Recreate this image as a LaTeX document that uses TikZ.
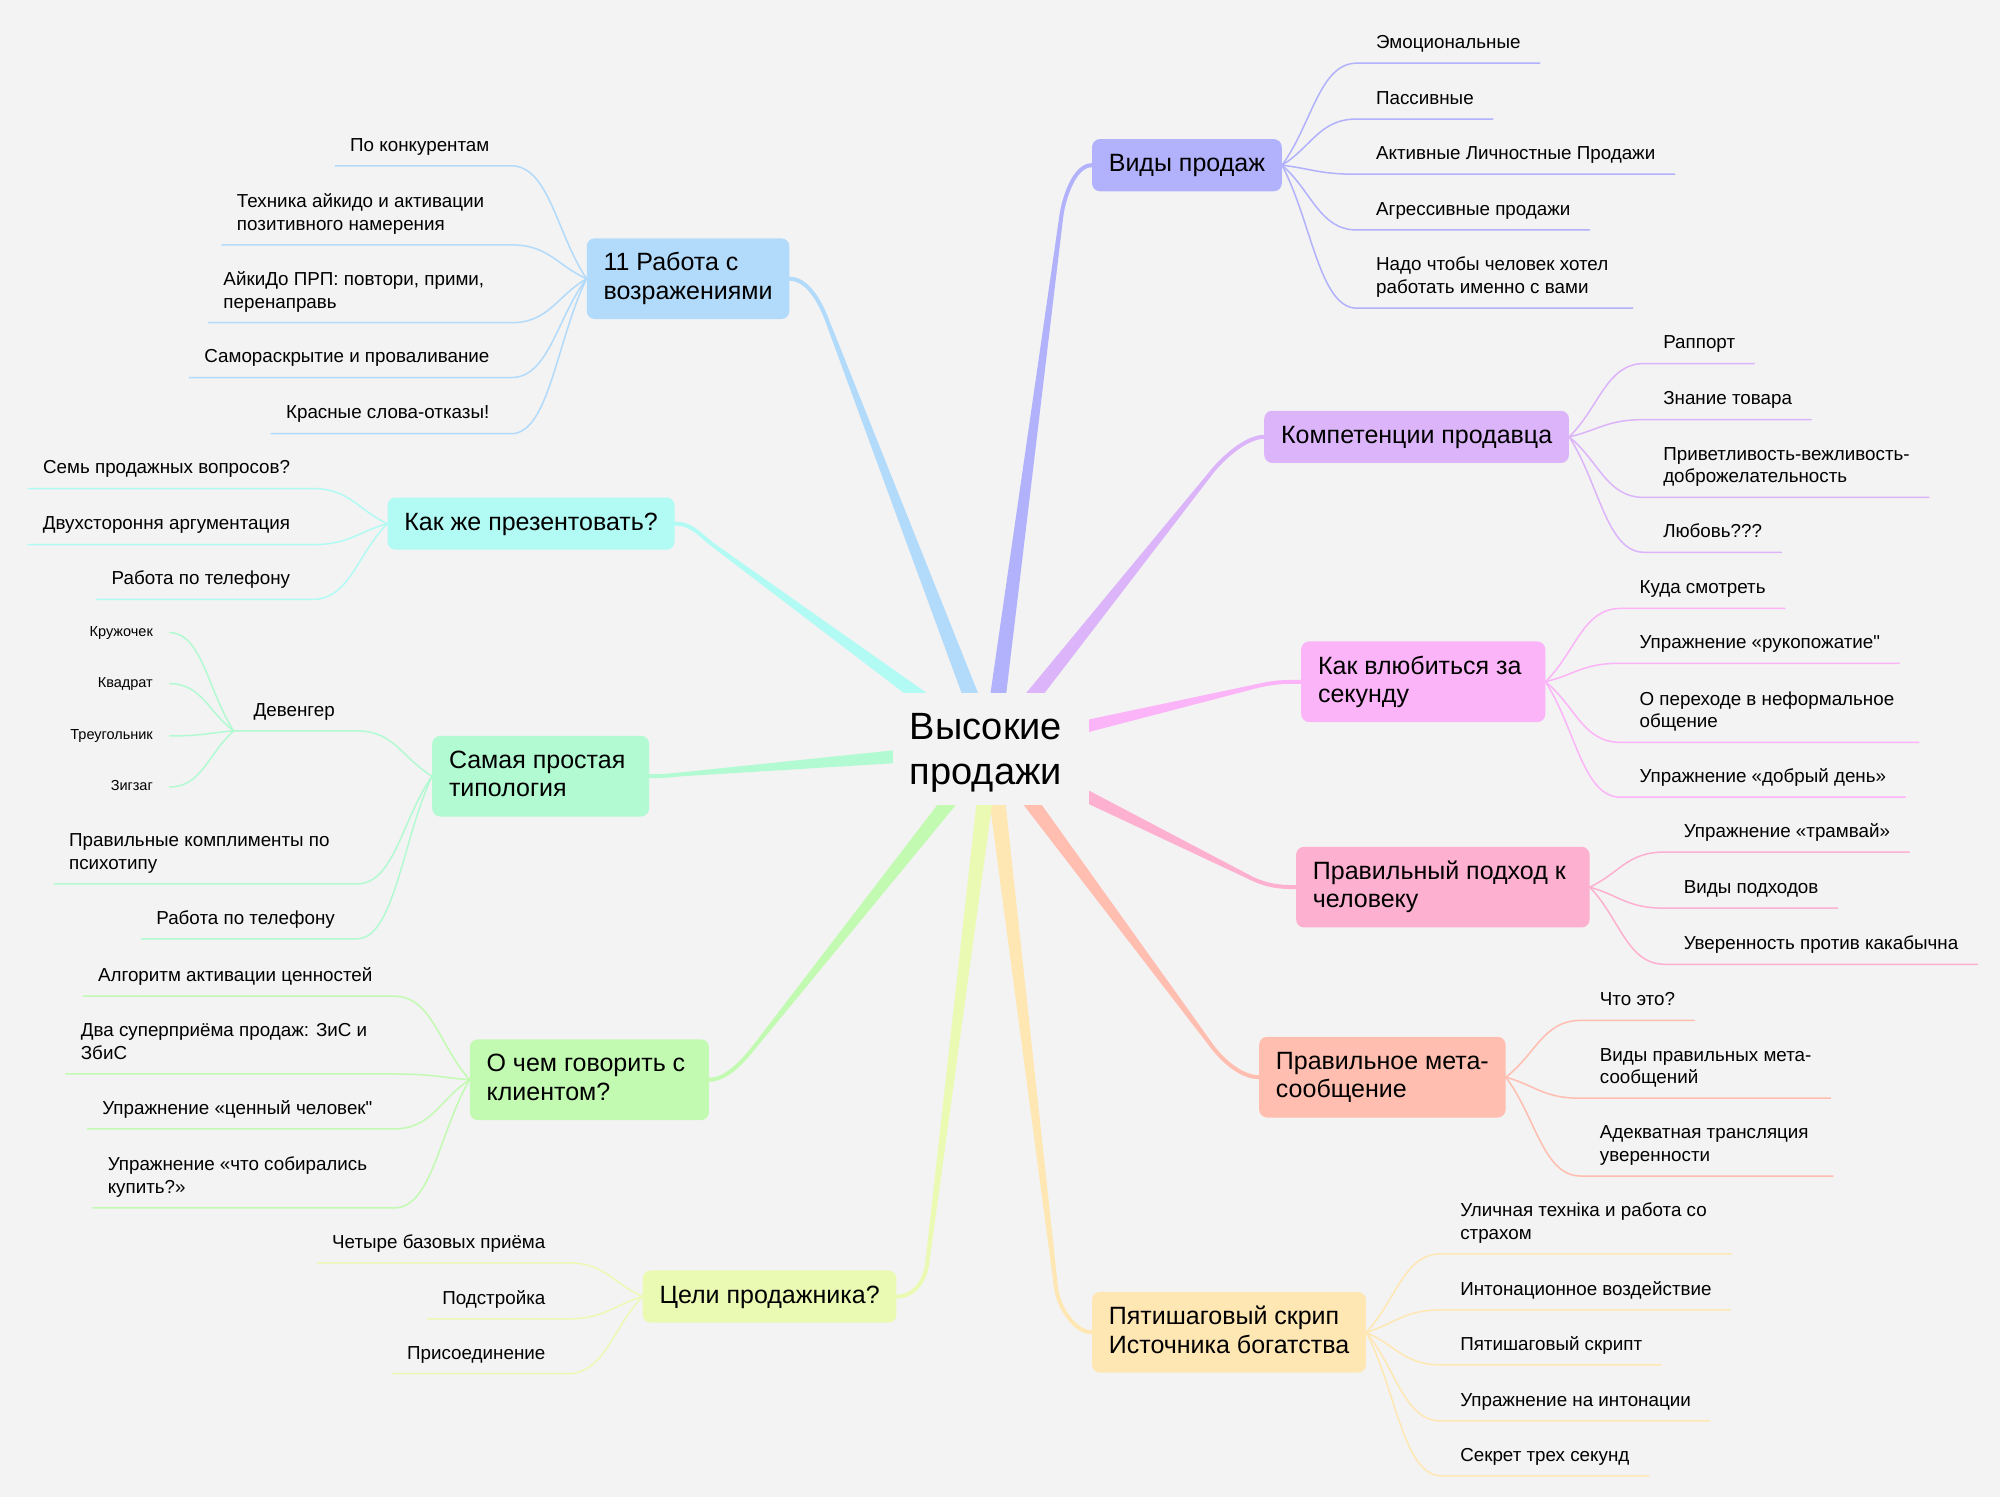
\documentclass[tikz,border=0pt]{standalone}
\usepackage{fontspec}
\setmainfont{Liberation Sans}[Ligatures=TeXOff]
\usetikzlibrary{calc}
\pgfdeclarelayer{back}
\pgfdeclarelayer{lines}
\pgfsetlayers{back,lines,main}
\definecolor{bg}{HTML}{F3F3F3}
\definecolor{cA}{HTML}{B2B2FC}
\definecolor{cB}{HTML}{DCB4FA}
\definecolor{cC}{HTML}{FBB4F7}
\definecolor{cD}{HTML}{FDB0CF}
\definecolor{cE}{HTML}{FFBEAF}
\definecolor{cF}{HTML}{FFE7B3}
\definecolor{cG}{HTML}{EBFAB3}
\definecolor{cH}{HTML}{C3FAB2}
\definecolor{cI}{HTML}{B2FAD2}
\definecolor{cJ}{HTML}{B2FAF4}
\definecolor{cK}{HTML}{B2DAFA}
\newcommand\ldp{\rule[-5pt]{0pt}{5pt}}
\newcommand\tsa{\rule{0pt}{19pt}}
\newcommand\tsb{\rule[-6pt]{0pt}{6pt}}
\newcommand\lfs{\rule[-3.5pt]{0pt}{13.9pt}}
\newcommand\tsp{\kern0.278em}
\newcommand\mbranch[4]{%
  \fill[#1] ($(c0)!8.5pt!90:(#2)$) -- ($(#2)!2pt!-90:(c0)$) -- ($(#2)!2pt!90:(c0)$) -- ($(c0)!8.5pt!-90:(#2)$) -- cycle;
  \draw[#1, line width=4pt, line cap=round] (#2) .. controls ($(#2)!-18pt!(c0)$) and ($(#3)+(#4,0)$) .. (#3);
}
\begin{document}
\begin{tikzpicture}[x=1.2755pt,y=-1.2755pt,
  topic/.style={rounded corners=8pt, inner xsep=16.8pt, inner ysep=13.6pt, align=left, font=\fontsize{25}{28.5}\selectfont, text=black},
  subR/.style={anchor=south west, xshift=74.9pt, inner xsep=19pt, inner ysep=9.5pt, align=left, font=\fontsize{18.8}{22.5}\selectfont},
  subL/.style={anchor=south east, xshift=-75.3pt, inner xsep=21.7pt, inner ysep=9.5pt, align=left, font=\fontsize{18.8}{22.5}\selectfont},
  leaf/.style={anchor=east, inner xsep=16.6pt, inner ysep=0pt, font=\fontsize{14.5}{17}\selectfont},
  conn/.style={line width=1.5pt, line cap=round},
  subc/.style={to path={let \p1=(\tikztostart), \p2=(\tikztotarget) in .. controls ($(\p1)!0.4!(\p2)$) and ({0.5*\x1+0.5*\x2},\y2) .. (\tikztotarget)}}
]
\begin{pgfonlayer}{back}
\fill[bg] (0,0) rectangle (1568,1174);
\end{pgfonlayer}
\useasboundingbox (0,0) rectangle (1568,1174);
\coordinate (c0) at (777,587);

% main topics
\node[topic, fill=cA, anchor=west] (A) at (856,129.5) {\tsa Виды продаж\tsb};
\node[topic, fill=cB, anchor=west] (B) at (991,342.5) {\tsa Компетенции продавца\tsb};
\node[topic, fill=cC, anchor=west] (C) at (1020,534.5) {\tsa Как влюбиться за\tsp\\секунду\tsb};
\node[topic, fill=cD, anchor=west] (D) at (1016,695.5) {\tsa Правильный подход к\tsp\\человеку\tsb};
\node[topic, fill=cE, anchor=west] (E) at (987,844.5) {\tsa Правильное мета-\\сообщение\tsb};
\node[topic, fill=cF, anchor=west] (F) at (856,1044.5) {\tsa Пятишаговый скрип\tsp\\Источника богатства\tsb};
\node[topic, fill=cG, anchor=east] (G) at (703,1016.5) {\tsa Цели продажника?\tsb};
\node[topic, fill=cH, anchor=east] (H) at (556,846.5) {\tsa О чем говорить с\tsp\\клиентом?\tsb};
\node[topic, fill=cI, anchor=east] (I) at (509,608.5) {\tsa Самая простая\tsp\\типология\tsb};
\node[topic, fill=cJ, anchor=east] (J) at (529,410.5) {\tsa Как же презентовать?\tsb};
\node[topic, fill=cK, anchor=east] (K) at (619,218.5) {\tsa 11 Работа с\tsp\\возражениями\tsb};

% bends of main branches
\coordinate (bA) at (832,170);
\coordinate (bB) at (950,370);
\coordinate (bC) at (985,538);
\coordinate (bD) at (980,688);
\coordinate (bE) at (950,820);
\coordinate (bF) at (828,1010);
\coordinate (bG) at (727,990);
\coordinate (bH) at (592,820);
\coordinate (bI) at (535,607);
\coordinate (bJ) at (560,428);
\coordinate (bK) at (648,250);

% sub topics right
\node[subR] (a1) at (A.east |- 0,49.5) {Эмоциональные\ldp};
\node[subR] (a2) at (A.east |- 0,93.3) {Пассивные\ldp};
\node[subR] (a3) at (A.east |- 0,136.6) {Активные Личностные Продажи\ldp};
\node[subR] (a4) at (A.east |- 0,180.3) {Агрессивные продажи\ldp};
\node[subR] (a5) at (A.east |- 0,241.6) {Надо чтобы человек хотел\tsp\\работать именно с вами\ldp};

\node[subR] (b1) at (B.east |- 0,285) {Раппорт\ldp};
\node[subR] (b2) at (B.east |- 0,329) {Знание товара\ldp};
\node[subR] (b3) at (B.east |- 0,390) {Приветливость-вежливость-\\доброжелательность\ldp};
\node[subR] (b4) at (B.east |- 0,433) {Любовь???\ldp};

\node[subR] (c1) at (C.east |- 0,477) {Куда смотреть\ldp};
\node[subR] (c2) at (C.east |- 0,520) {Упражнение «рукопожатие"\ldp};
\node[subR] (c3) at (C.east |- 0,582) {О переходе в неформальное\tsp\\общение\ldp};
\node[subR] (c4) at (C.east |- 0,625) {Упражнение «добрый день»\ldp};

\node[subR] (d1) at (D.east |- 0,668) {Упражнение «трамвай»\ldp};
\node[subR] (d2) at (D.east |- 0,712) {Виды подходов\ldp};
\node[subR] (d3) at (D.east |- 0,756) {Уверенность против какабычна\ldp};

\node[subR] (e1) at (E.east |- 0,800) {Что это?\ldp};
\node[subR] (e2) at (E.east |- 0,861) {Виды правильных мета-\\сообщений\ldp};
\node[subR] (e3) at (E.east |- 0,922) {Адекватная трансляция\tsp\\уверенности\ldp};

\node[subR] (f1) at (F.east |- 0,983) {Уличная техніка и работа со\tsp\\страхом\ldp};
\node[subR] (f2) at (F.east |- 0,1027) {Интонационное воздействие\ldp};
\node[subR] (f3) at (F.east |- 0,1070) {Пятишаговый скрипт\ldp};
\node[subR] (f4) at (F.east |- 0,1114) {Упражнение на интонации\ldp};
\node[subR] (f5) at (F.east |- 0,1157) {Секрет трех секунд\ldp};

% sub topics left
\node[subL] (k1) at (K.west |- 0,130) {По конкурентам\ldp};
\node[subL] (k2) at (K.west |- 0,192) {Техника айкидо и активации\tsp\\позитивного намерения\ldp};
\node[subL] (k3) at (K.west |- 0,253) {АйкиДо ПРП: повтори, прими,\tsp\\перенаправь\ldp};
\node[subL] (k4) at (K.west |- 0,296) {Самораскрытие и проваливание\ldp};
\node[subL] (k5) at (K.west |- 0,340) {Красные слова-отказы!\ldp};

\node[subL] (j1) at (J.west |- 0,383) {Семь продажных вопросов?\ldp};
\node[subL] (j2) at (J.west |- 0,427) {Двухстороння аргументация\ldp};
\node[subL] (j3) at (J.west |- 0,470) {Работа по телефону\ldp};

\node[subL] (i1) at (I.west |- 0,573) {Девенгер\ldp};
\node[subL] (i2) at (I.west |- 0,693) {Правильные комплименты по\tsp\\психотипу\ldp};
\node[subL] (i3) at (I.west |- 0,736) {Работа по телефону\ldp};
\node[leaf] (i1a) at (133,496) {\lfs Кружочек};
\node[leaf] (i1b) at (133,536) {\lfs Квадрат};
\node[leaf] (i1c) at (133,577) {\lfs Треугольник};
\node[leaf] (i1d) at (133,617) {\lfs Зигзаг};

\node[subL] (h1) at (H.west |- 0,781) {Алгоритм активации ценностей\ldp};
\node[subL] (h2) at (H.west |- 0,842) {Два суперприёма продаж: ЗиС и\tsp\\ЗбиС\ldp};
\node[subL] (h3) at (H.west |- 0,885) {Упражнение «ценный человек"\ldp};
\node[subL] (h4) at (H.west |- 0,947) {Упражнение «что собирались\tsp\\купить?»\ldp};

\node[subL] (g1) at (G.west |- 0,990) {Четыре базовых приёма\ldp};
\node[subL] (g2) at (G.west |- 0,1034) {Подстройка\ldp};
\node[subL] (g3) at (G.west |- 0,1077) {Присоединение\ldp};

\begin{pgfonlayer}{lines}
% main branches
\mbranch{cA}{bA}{A.west}{-14}
\mbranch{cB}{bB}{B.west}{-14}
\mbranch{cC}{bC}{C.west}{-14}
\mbranch{cD}{bD}{D.west}{-14}
\mbranch{cE}{bE}{E.west}{-14}
\mbranch{cF}{bF}{F.west}{-14}
\mbranch{cG}{bG}{G.east}{14}
\mbranch{cH}{bH}{H.east}{14}
\mbranch{cI}{bI}{I.east}{14}
\mbranch{cJ}{bJ}{J.east}{14}
\mbranch{cK}{bK}{K.east}{14}

% sub connectors right
\foreach \q in {a1,a2,a3,a4,a5} \draw[conn,cA] (A.east) to[subc] (\q.south west) -- (\q.south east);
\foreach \q in {b1,b2,b3,b4} \draw[conn,cB] (B.east) to[subc] (\q.south west) -- (\q.south east);
\foreach \q in {c1,c2,c3,c4} \draw[conn,cC] (C.east) to[subc] (\q.south west) -- (\q.south east);
\foreach \q in {d1,d2,d3} \draw[conn,cD] (D.east) to[subc] (\q.south west) -- (\q.south east);
\foreach \q in {e1,e2,e3} \draw[conn,cE] (E.east) to[subc] (\q.south west) -- (\q.south east);
\foreach \q in {f1,f2,f3,f4,f5} \draw[conn,cF] (F.east) to[subc] (\q.south west) -- (\q.south east);
% sub connectors left
\foreach \q in {k1,k2,k3,k4,k5} \draw[conn,cK] (K.west) to[subc] (\q.south east) -- ([xshift=7pt]\q.south west);
\foreach \q in {j1,j2,j3} \draw[conn,cJ] (J.west) to[subc] (\q.south east) -- ([xshift=7pt]\q.south west);
\draw[conn,cI] (I.west) to[subc] (i1.south east) -- ([xshift=2pt]i1.south west);
\foreach \q in {i2,i3} \draw[conn,cI] (I.west) to[subc] (\q.south east) -- ([xshift=7pt]\q.south west);
\foreach \q in {i1a,i1b,i1c,i1d} \draw[conn,cI] ([xshift=2pt]i1.south west) to[subc] (\q.east);
\foreach \q in {h1,h2,h3,h4} \draw[conn,cH] (H.west) to[subc] (\q.south east) -- ([xshift=7pt]\q.south west);
\foreach \q in {g1,g2,g3} \draw[conn,cG] (G.west) to[subc] (\q.south east) -- ([xshift=7pt]\q.south west);
\end{pgfonlayer}

% central topic
\fill[bg] (700,543) rectangle (854,631);
\node[font=\fontsize{38}{45}\selectfont, align=left, inner sep=0pt] (ct) at (773,590) {Высокие\\продажи};
\end{tikzpicture}
\end{document}
